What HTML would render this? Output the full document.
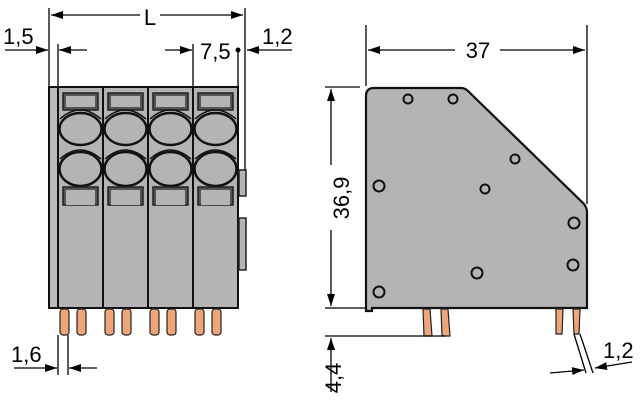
<!DOCTYPE html>
<html><head><style>body{margin:0;background:#fff}svg{display:block}</style></head><body>
<svg width="640" height="400" viewBox="0 0 640 400" xmlns="http://www.w3.org/2000/svg" font-family="Liberation Sans, DejaVu Sans, sans-serif">
<defs>
<marker id="a" markerWidth="12" markerHeight="8" refX="12" refY="4" orient="auto" markerUnits="userSpaceOnUse"><path d="M0,0 L12,4 L0,8 z" fill="#000"/></marker>
<g id="mod">
 <rect x="0" y="0" width="45" height="221" fill="#b4b4b4" stroke="#111" stroke-width="2"/>
 <rect x="5" y="6" width="35" height="17" fill="#555" stroke="#222" stroke-width="1.5"/>
 <rect x="8" y="9" width="29" height="11" fill="#b4b4b4"/>
 <path d="M2,32 Q22,14 43,32" fill="none" stroke="#111" stroke-width="1.5"/>
 <ellipse cx="22.5" cy="42" rx="21" ry="16" fill="#b4b4b4" stroke="#111" stroke-width="2.5"/>
 <path d="M2,72 Q22,54 43,72" fill="none" stroke="#111" stroke-width="1.5"/>
 <ellipse cx="22.5" cy="82" rx="21" ry="17" fill="#b4b4b4" stroke="#111" stroke-width="2.5"/>
 <rect x="5" y="100" width="35" height="18" fill="#555" stroke="#222" stroke-width="1.5"/>
 <rect x="8" y="103" width="29" height="15" fill="#b4b4b4"/>
 <rect x="2" y="222" width="9" height="26" rx="3" fill="#f0a47a" stroke="#222" stroke-width="1.2"/>
 <rect x="19" y="222" width="9" height="26" rx="3" fill="#f0a47a" stroke="#222" stroke-width="1.2"/>
</g>
</defs>
<rect x="49" y="87" width="10" height="221" fill="#bcbcbc" stroke="#111" stroke-width="2"/>
<use href="#mod" x="58" y="87"/>
<use href="#mod" x="103" y="87"/>
<use href="#mod" x="148" y="87"/>
<use href="#mod" x="193" y="87"/>
<rect x="239" y="170" width="7" height="26" fill="#b4b4b4" stroke="#222" stroke-width="1.5"/>
<rect x="239" y="218" width="7" height="52" fill="#b4b4b4" stroke="#222" stroke-width="1.5"/>
<g stroke="#000" stroke-width="1.3" fill="none">
 <line x1="49" y1="8" x2="49" y2="87"/><line x1="245" y1="8" x2="245" y2="170"/>
 <line x1="140" y1="15" x2="51" y2="15" marker-end="url(#a)"/><line x1="160" y1="15" x2="243" y2="15" marker-end="url(#a)"/>
 <line x1="58" y1="44" x2="58" y2="87"/><line x1="193" y1="44" x2="193" y2="87"/><line x1="238" y1="50" x2="238" y2="87"/>
 <line x1="5" y1="50" x2="48" y2="50" marker-end="url(#a)"/><line x1="87" y1="50" x2="59" y2="50" marker-end="url(#a)"/>
 <line x1="165" y1="50" x2="192" y2="50" marker-end="url(#a)"/><line x1="292" y1="50" x2="247" y2="50" marker-end="url(#a)"/>
 <line x1="58" y1="335" x2="58" y2="375"/><line x1="68" y1="335" x2="68" y2="375"/>
 <line x1="14" y1="368" x2="57" y2="368" marker-end="url(#a)"/><line x1="97" y1="368" x2="69" y2="368" marker-end="url(#a)"/>
</g>
<circle cx="238" cy="50" r="2.5" fill="#000"/>
<g font-size="22" fill="#000">
 <text x="150" y="25" text-anchor="middle">L</text>
 <text x="3" y="44">1,5</text>
 <text x="200" y="59">7,5</text>
 <text x="262" y="44">1,2</text>
 <text x="11" y="362">1,6</text>
 <text x="478" y="58" text-anchor="middle">37</text>
 <text x="603" y="358">1,2</text>
</g>
<path d="M366,96 Q366,88 374,88 L461,88 Q465,88 468,91 L584,204 Q587,208 587,212 L587,308 L372,308 L372,311 L366,311 Z" fill="#b4b4b4" stroke="#111" stroke-width="2.2"/>
<g fill="none" stroke="#111" stroke-width="2">
 <circle cx="408" cy="99" r="4.5"/><circle cx="453" cy="99" r="4.5"/><circle cx="515" cy="159" r="4.5"/>
 <circle cx="379" cy="186" r="5.5"/><circle cx="485" cy="189" r="4.5"/><circle cx="574" cy="223" r="5.5"/>
 <circle cx="573" cy="265" r="5.5"/><circle cx="477" cy="273" r="5.5"/><circle cx="379" cy="292" r="5.5"/>
</g>
<g fill="#f0a47a" stroke="#222" stroke-width="1.2">
 <path d="M423,309 L430,309 L432,336 L424,336 Z"/><path d="M441,309 L448,309 L450,336 L442,336 Z"/>
 <path d="M556,309 L563,309 L562,334 L556,334 Z"/><path d="M573,309 L580,309 L579,334 L574,334 Z"/>
</g>
<g stroke="#000" stroke-width="1.3" fill="none">
 <line x1="366" y1="25" x2="366" y2="86"/><line x1="587" y1="25" x2="587" y2="204"/>
 <line x1="455" y1="50" x2="368" y2="50" marker-end="url(#a)"/><line x1="500" y1="50" x2="585" y2="50" marker-end="url(#a)"/>
 <line x1="325" y1="87" x2="360" y2="87"/><line x1="325" y1="308" x2="365" y2="308"/>
 <line x1="331" y1="165" x2="331" y2="89" marker-end="url(#a)"/><line x1="331" y1="230" x2="331" y2="306" marker-end="url(#a)"/>
 <line x1="325" y1="336" x2="445" y2="336"/>
 <line x1="331" y1="392" x2="331" y2="338" marker-end="url(#a)"/>
 <line x1="574" y1="334" x2="586" y2="373"/><line x1="580" y1="334" x2="593" y2="373"/>
 <line x1="550" y1="373" x2="584" y2="370" marker-end="url(#a)"/><line x1="632" y1="362" x2="595" y2="368" marker-end="url(#a)"/>
</g>
<g font-size="22" fill="#000">
 <text transform="translate(349,198) rotate(-90)" text-anchor="middle">36,9</text>
 <text transform="translate(341,378) rotate(-90)" text-anchor="middle">4,4</text>
</g>
</svg>
</body></html>
